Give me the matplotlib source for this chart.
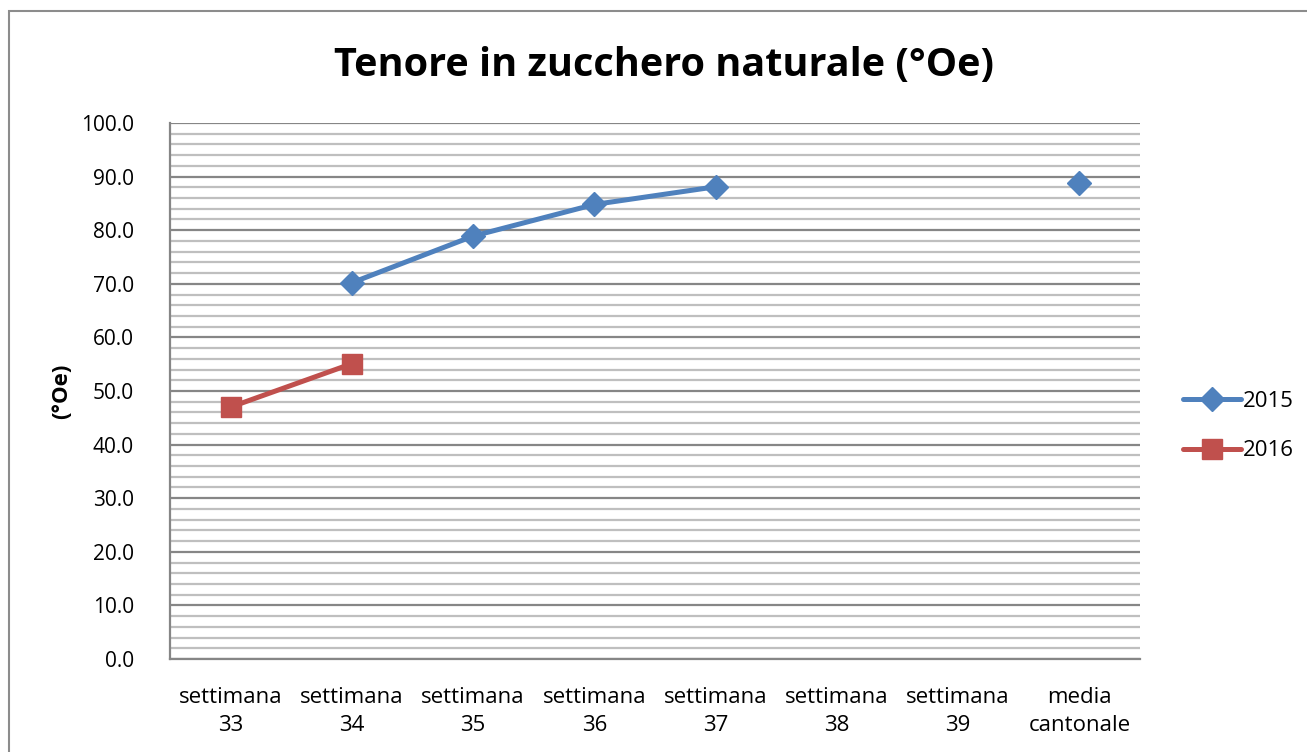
import matplotlib.pyplot as plt
from matplotlib.patches import Rectangle
import numpy as np

# Data
categories = ['settimana\n33', 'settimana\n34', 'settimana\n35', 'settimana\n36',
              'settimana\n37', 'settimana\n38', 'settimana\n39', 'media\ncantonale']
vals_2015 = [np.nan, 70.2, 78.9, 84.8, 88.1, np.nan, np.nan, 88.8]
vals_2016 = [47.0, 55.1, np.nan, np.nan, np.nan, np.nan, np.nan, np.nan]

blue = '#4F81BD'
red = '#C0504D'
font = 'Open Sans'

fig = plt.figure(figsize=(13.07, 7.52), dpi=100)
W, H = 1307, 752
ax = fig.add_axes([170 / W, 1 - 659 / H, 970 / W, 536 / H])

x = np.arange(len(categories))

# 2015: line connects consecutive points only; media cantonale is isolated
ax.plot(x[1:5], vals_2015[1:5], color=blue, lw=3.6, marker='D', ms=12,
        solid_capstyle='round', label='2015')
ax.plot(x[7:], vals_2015[7:], color=blue, lw=0, marker='D', ms=12)
ax.plot(x[:2], vals_2016[:2], color=red, lw=3.6, marker='s', ms=14,
        solid_capstyle='round', label='2016')

ax.set_xlim(-0.5, len(categories) - 0.5)
ax.set_ylim(0, 100)
ax.set_yticks(np.arange(0, 101, 10))
ax.set_yticks(np.arange(0, 101, 2), minor=True)
ax.set_yticklabels([f'{v:.1f}' for v in np.arange(0, 101, 10)], fontsize=15, family=font)
ax.set_xticks(x)
ax.set_xticklabels(categories, fontsize=16, family=font, linespacing=1.45)
ax.tick_params(axis='x', length=0, pad=20)
ax.tick_params(axis='y', which='both', length=0, pad=26)

ax.grid(axis='y', which='minor', color='#BFBFBF', lw=1.6)
ax.grid(axis='y', which='major', color='#868686', lw=1.6)
ax.set_axisbelow(True)

for s in ['top', 'right']:
    ax.spines[s].set_visible(False)
for s in ['left', 'bottom']:
    ax.spines[s].set_color('#868686')
    ax.spines[s].set_linewidth(1.6)

ax.set_ylabel('(°Oe)', fontsize=16, fontweight='bold', family=font, labelpad=6)

fig.text(664 / W, 1 - 66 / H, 'Tenore in zucchero naturale (°Oe)', ha='center', va='center',
         fontsize=28.5, fontweight='bold', family=font)

leg = fig.legend(loc='center left', bbox_to_anchor=(1163 / W, 1 - 426 / H), frameon=False,
                 prop={'family': font, 'size': 16}, handlelength=2.6, labelspacing=1.3,
                 handletextpad=0.1)

# outer chart border (right/bottom fall outside the picture)
fig.patches.append(Rectangle((9 / W, -0.1), 1.2, 1 - 11 / H + 0.1, transform=fig.transFigure,
                             fill=False, edgecolor='#8C8C8C', lw=1.5))

plt.savefig('out.png', dpi=100)
